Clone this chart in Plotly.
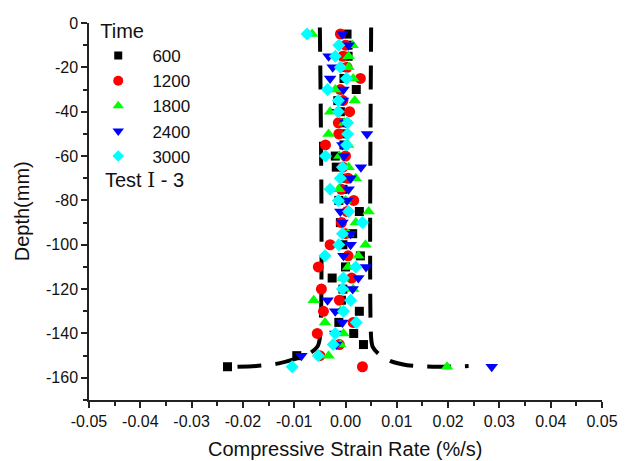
import plotly.graph_objects as go

# ---------------- data ----------------
depth = [-5, -10, -15, -20, -25, -30, -35, -40, -45, -50, -55, -60, -65, -70, -75, -80,
         -85, -90, -95, -100, -105, -110, -115, -120, -125, -130, -135, -140, -145, -150, -155]

rate_600 = [0.0003, 0.0005, 0.0005, 0.0, -0.0003, 0.0021, -0.0015, -0.0010, -0.0010, -0.0005,
            -0.0003, -0.0020, -0.0018, -0.0005, -0.0005, -0.0013, 0.0027, -0.0010, 0.0014, -0.0005,
            0.0029, 0.0, -0.0026, -0.0005, -0.0008, 0.0027, -0.0013, 0.0016, 0.0035, -0.0095, -0.0230]
rate_1200 = [-0.0010, 0.0, -0.0005, 0.0003, 0.0029, -0.0010, -0.0005, 0.0008, -0.0014, -0.0013,
             -0.0039, 0.0, -0.0005, 0.0005, -0.0008, 0.0016, 0.0003, -0.0008, 0.0, -0.0030,
             0.0005, -0.0053, 0.0012, -0.0047, -0.0012, -0.0043, 0.0015, -0.0055, -0.0012, -0.0050, 0.0033]
rate_1800 = [-0.0065, 0.0014, 0.0006, 0.0006, 0.0015, -0.0020, 0.0018, -0.0030, -0.0002, -0.0033,
             0.0005, -0.0012, 0.0006, 0.0020, -0.0013, 0.0, 0.0045, 0.0020, 0.0005, 0.0039,
             0.0025, 0.0005, -0.0005, 0.0015, -0.0062, -0.0010, -0.0040, -0.0004, -0.0010, -0.0033, 0.0198]
rate_2400 = [-0.0006, 0.0006, -0.0033, -0.0025, -0.0030, -0.0004, -0.0005, -0.0015, 0.0, 0.0042,
             -0.0006, -0.0003, 0.0030, 0.0010, 0.0006, 0.0003, -0.0010, -0.0006, 0.0010, 0.0010,
             -0.0004, 0.0040, 0.0025, 0.0014, -0.0035, -0.0020, -0.0006, -0.0020, -0.0018, -0.0086, 0.0285]
rate_3000 = [-0.0075, -0.0013, -0.0020, -0.0010, 0.0002, -0.0035, -0.0014, -0.0014, 0.0004, 0.0004,
             0.0002, -0.0039, -0.0006, -0.0010, -0.0030, -0.0014, 0.0006, 0.0033, -0.0006, -0.0013,
             -0.0040, 0.0020, -0.0004, -0.0006, 0.0010, -0.0004, 0.0021, -0.0020, -0.0024, -0.0053, -0.0104]

series_names = ["600", "1200", "1800", "2400", "3000"]

# envelope (dashed boundary) curves
left_env_x = [-0.005, -0.005, -0.0055, -0.007, -0.0098, -0.013, -0.017, -0.023]
left_env_y = [-2, -142, -146, -149, -151.5, -153.5, -154.6, -155.2]
right_env_x = [0.005, 0.005, 0.0053, 0.0066, 0.0088, 0.012, 0.017, 0.024]
right_env_y = [-2, -142, -146, -149.5, -152.5, -154.3, -155, -154.7]

x_ticks = [-0.05, -0.04, -0.03, -0.02, -0.01, 0.0, 0.01, 0.02, 0.03, 0.04, 0.05]
x_tick_text = ["-0.05", "-0.04", "-0.03", "-0.02", "-0.01", "0.00", "0.01", "0.02", "0.03", "0.04", "0.05"]
y_ticks = [0, -20, -40, -60, -80, -100, -120, -140, -160]
y_tick_text = ["0", "-20", "-40", "-60", "-80", "-100", "-120", "-140", "-160"]

x_title = "Compressive Strain Rate (%/s)"
y_title = "Depth(mm)"

# ---------------- styles ----------------
styles = [
    dict(symbol="square", color="#000000", size=9, lsize=8),
    dict(symbol="circle", color="#ff0000", size=11, lsize=10),
    dict(symbol="triangle-up", color="#00ff00", size=11, lsize=10),
    dict(symbol="triangle-down", color="#0000ff", size=11, lsize=10),
    dict(symbol="diamond", color="#00ffff", size=10, lsize=9),
]

fig = go.Figure()

# dashed envelopes
for ex, ey in [(left_env_x, left_env_y), (right_env_x, right_env_y)]:
    fig.add_trace(go.Scatter(x=ex, y=ey, mode="lines",
                             line=dict(color="black", width=4, dash="24px,14px", shape="spline", smoothing=0.8),
                             showlegend=False, hoverinfo="skip"))

all_rates = [rate_600, rate_1200, rate_1800, rate_2400, rate_3000]
for name, vals, st in zip(series_names, all_rates, styles):
    fig.add_trace(go.Scatter(x=vals, y=depth, mode="markers", name=name, showlegend=False,
                             marker=dict(symbol=st["symbol"], color=st["color"], size=st["size"], line=dict(width=0))))

# legend-only entries (smaller markers as in the reference legend)
nb = "\u00a0" * 3
for name, st in zip(series_names, styles):
    fig.add_trace(go.Scatter(x=[None], y=[None], mode="markers", name=nb + name,
                             marker=dict(symbol=st["symbol"], color=st["color"], size=st["lsize"], line=dict(width=0))))

axis_common = dict(
    showline=True, linecolor="#222222", linewidth=1.5,
    ticks="outside", ticklen=6, tickwidth=1.5, tickcolor="#222222",
    showgrid=False, zeroline=False, mirror=False, automargin=False,
    tickfont=dict(family="Liberation Sans, Arial", size=16, color="#111111"),
)

fig.update_layout(
    width=627, height=461,
    margin=dict(l=89, r=25, t=18, b=61),
    paper_bgcolor="white", plot_bgcolor="white",
    font=dict(family="Liberation Sans, Arial", size=20, color="#111111"),
    xaxis=dict(range=[-0.05, 0.05], tickvals=x_ticks, ticktext=x_tick_text,
               minor=dict(ticks="outside", ticklen=4, tickwidth=1.5, tickcolor="#222222", dtick=0.005, showgrid=False),
               **axis_common),
    yaxis=dict(range=[-170, 0], tickvals=y_ticks, ticktext=y_tick_text,
               minor=dict(ticks="outside", ticklen=4, tickwidth=1.5, tickcolor="#222222", dtick=10, showgrid=False),
               **axis_common),
    legend=dict(x=0.018, y=1.029, xanchor="left", yanchor="top",
                title=dict(text="Time", font=dict(size=20)),
                font=dict(size=17), bgcolor="rgba(0,0,0,0)", borderwidth=0,
                tracegroupgap=0),
    annotations=[
        dict(xref="paper", yref="paper", x=0.027, y=0.584, xanchor="left", yanchor="middle",
             text='Test <span style="font-family:DejaVu Serif">Ⅰ</span> - 3', showarrow=False,
             font=dict(size=20, color="#111111")),
        dict(xref="paper", yref="paper", x=0.5, y=-0.131, xanchor="center", yanchor="middle",
             text=x_title, showarrow=False, font=dict(size=20, color="#111111")),
        dict(xref="paper", yref="paper", x=-0.131, y=0.5, xanchor="center", yanchor="middle",
             text=y_title, textangle=-90, showarrow=False, font=dict(size=20, color="#111111")),
    ],
)

fig.write_html("out.html")
